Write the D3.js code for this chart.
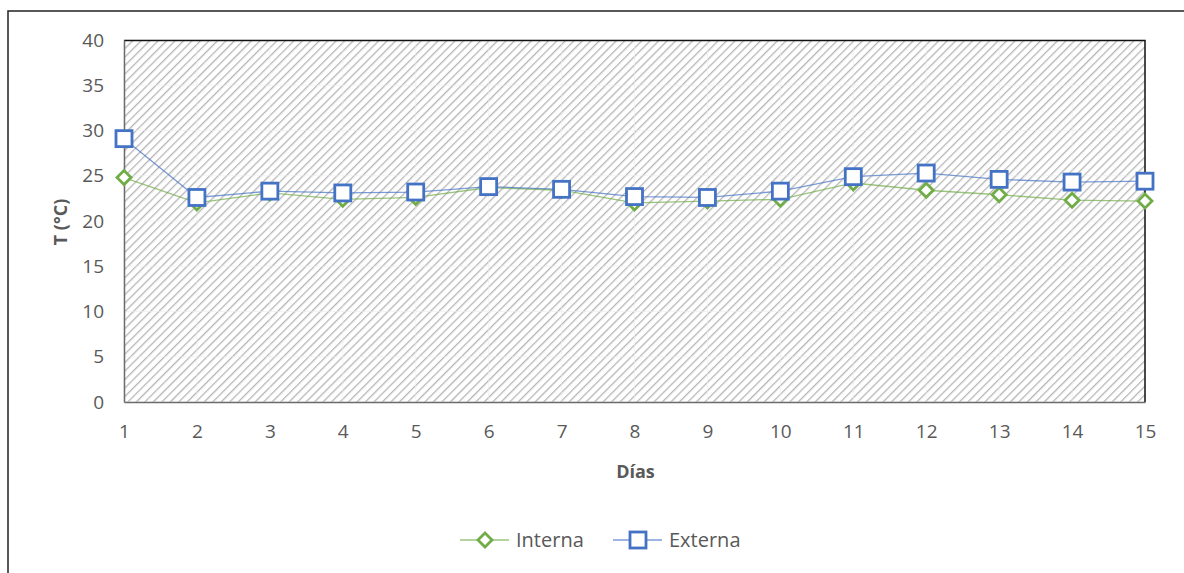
<!DOCTYPE html>
<html>
<head>
<meta charset="utf-8">
<script src="https://cdn.jsdelivr.net/npm/d3@7"></script>
<style>
  body { margin: 0; background: #fff; }
  svg text { font-family: "Open Sans", Lato, sans-serif; }
</style>
</head>
<body>
<svg id="chart" width="1184" height="573"></svg>
<script>
// data
var dias = [1, 2, 3, 4, 5, 6, 7, 8, 9, 10, 11, 12, 13, 14, 15]
var interna = [24.8, 22.0, 23.1, 22.4, 22.6, 23.7, 23.4, 22.0, 22.2, 22.4, 24.2, 23.4, 22.9, 22.3, 22.2]
var externa = [29.1, 22.6, 23.3, 23.1, 23.2, 23.8, 23.5, 22.7, 22.6, 23.3, 24.9, 25.3, 24.6, 24.3, 24.4]
var yTicks = [0, 5, 10, 15, 20, 25, 30, 35, 40]

const margin = { top: 40, right: 39, bottom: 171, left: 124 }
const W = 1184, H = 573
const width = W - margin.left - margin.right
const height = H - margin.top - margin.bottom

var text_color = "#595959"
var green = "#70ad47"
var blue = "#4472c4"

const svg = d3.select("#chart")

// outer frame
svg.append("rect")
    .attr("x", 8).attr("y", 11)
    .attr("width", W + 20).attr("height", H + 20)
    .attr("fill", "none").attr("stroke", "#222").attr("stroke-width", 1.5)

// hatch pattern
var defs = svg.append("defs")
var pat = defs.append("pattern")
    .attr("id", "hatch")
    .attr("patternUnits", "userSpaceOnUse")
    .attr("width", 6).attr("height", 6)
    .attr("patternTransform", "rotate(45)")
pat.append("rect").attr("width", 6).attr("height", 6).attr("fill", "#fff")
pat.append("line")
    .attr("x1", 0).attr("y1", 0).attr("x2", 0).attr("y2", 6)
    .attr("stroke", "#b5b5b5").attr("stroke-width", 2.6)

const x = d3.scaleLinear().domain([1, 15]).range([0, width])
const y = d3.scaleLinear().domain([0, 40]).range([height, 0])

const g = svg.append("g").attr("transform", `translate(${margin.left},${margin.top})`)

g.append("rect")
    .attr("width", width).attr("height", height)
    .attr("fill", "url(#hatch)")

// gridlines
g.append("g").selectAll("line").data(yTicks).enter().append("line")
    .attr("x1", 0).attr("x2", width)
    .attr("y1", d => y(d)).attr("y2", d => y(d))
    .attr("stroke", "#ececec").attr("stroke-opacity", 0.6).attr("stroke-width", 1)
g.append("g").selectAll("line").data(dias).enter().append("line")
    .attr("y1", 0).attr("y2", height)
    .attr("x1", d => x(d)).attr("x2", d => x(d))
    .attr("stroke", "#ececec").attr("stroke-opacity", 0.6).attr("stroke-width", 1)

// plot border: top + right dark
g.append("path")
    .attr("d", `M0,0.5H${width}V${height}`)
    .attr("fill", "none").attr("stroke", "#111").attr("stroke-width", 1.5)

// axes
var yAxis = g.append("g")
    .call(d3.axisLeft(y).tickValues(yTicks).tickSize(0).tickPadding(20))
yAxis.select(".domain").attr("stroke", "#6b6b6b").attr("stroke-width", 1.5)
yAxis.selectAll("text").attr("fill", text_color).style("font-size", "19px")

var xAxis = g.append("g")
    .attr("transform", `translate(0,${height})`)
    .call(d3.axisBottom(x).tickValues(dias).tickFormat(d3.format("d")).tickSize(0).tickPadding(23))
xAxis.select(".domain").attr("stroke", "#6b6b6b").attr("stroke-width", 1.5)
xAxis.selectAll("text").attr("fill", text_color).style("font-size", "19px")

// axis titles
svg.append("text")
    .attr("transform", `translate(67,${margin.top + height / 2 + 1}) rotate(-90)`)
    .attr("text-anchor", "middle")
    .attr("fill", text_color)
    .style("font-size", "18px").style("font-weight", "bold")
    .text("T (°C)")
svg.append("text")
    .attr("x", margin.left + width / 2 + 1).attr("y", 478)
    .attr("text-anchor", "middle")
    .attr("fill", text_color)
    .style("font-size", "18px").style("font-weight", "bold")
    .text("Días")

// series
var series = [
    { name: "Interna", values: interna, color: green, shape: "diamond" },
    { name: "Externa", values: externa, color: blue, shape: "square" }
]

var line = d3.line().x((d, i) => x(dias[i])).y(d => y(d))

var drawMarker = function (sel, s, cx, cy) {
    if (s.shape == "square") {
        sel.append("rect")
            .attr("x", cx - 8).attr("y", cy - 8)
            .attr("width", 16).attr("height", 16)
            .attr("fill", "#fff").attr("stroke", s.color).attr("stroke-width", 2.8)
    } else {
        sel.append("path")
            .attr("d", `M${cx},${cy - 7}L${cx + 7},${cy}L${cx},${cy + 7}L${cx - 7},${cy}Z`)
            .attr("fill", "#fff").attr("stroke", s.color).attr("stroke-width", 2.8)
    }
}

series.forEach(function (s) {
    g.append("path")
        .datum(s.values)
        .attr("d", line)
        .attr("fill", "none")
        .attr("stroke", s.color).attr("stroke-opacity", 0.7).attr("stroke-width", 1.3)
})
series.forEach(function (s) {
    var mg = g.append("g")
    s.values.forEach(function (v, i) {
        drawMarker(mg, s, x(dias[i]), y(v))
    })
})

// legend
var legendX = [460, 613]
var legendG = svg.append("g").attr("transform", "translate(0,540)")
series.forEach(function (s, i) {
    var lx = legendX[i]
    legendG.append("line")
        .attr("x1", lx).attr("x2", lx + 49)
        .attr("y1", 0).attr("y2", 0)
        .attr("stroke", s.color).attr("stroke-opacity", 0.7).attr("stroke-width", 1.3)
    drawMarker(legendG, s, lx + 25, 0)
    legendG.append("text")
        .attr("x", lx + 56).attr("y", 7)
        .attr("fill", text_color)
        .style("font-size", "20px")
        .text(s.name)
})
</script>
</body>
</html>
